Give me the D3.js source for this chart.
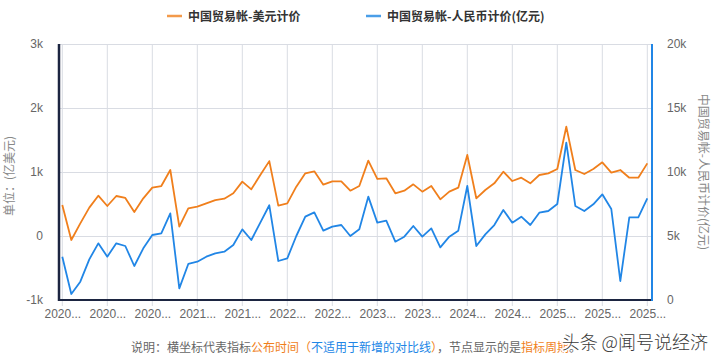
<!DOCTYPE html>
<html>
<head>
<meta charset="utf-8">
<script src="https://cdn.jsdelivr.net/npm/d3@7/dist/d3.min.js"></script>
<style>
  body { margin: 0; background: #fff; }
  svg { display: block; font-family: "Noto Sans CJK SC", "Noto Sans", sans-serif; }
</style>
</head>
<body>
<div id="chart"></div>
<script>
// 中国贸易帐 (亿美元)
const usdValues = [
  484, -62, 198, 443, 630, 469, 625, 594, 375, 589,
  755, 781, 1031, 146, 432, 458, 510, 562, 583, 667,
  849, 729, 953, 1170, 474, 510, 771, 979, 1010, 802,
  854, 854, 708, 781, 1177, 891, 901, 667, 708, 807,
  693, 781, 573, 693, 755, 1266, 589, 719, 823, 1005,
  859, 911, 823, 953, 979, 1047, 1708, 1031, 969, 1047,
  1151, 990, 1031, 911, 911, 1135
];

// 中国贸易帐 (亿元)
const cnyValues = [
  3385, 469, 1432, 3177, 4427, 3385, 4427, 4219, 2656, 4036,
  5078, 5208, 6771, 911, 2813, 2995, 3385, 3646, 3776, 4297,
  5521, 4688, 6042, 7400, 3047, 3255, 5000, 6510, 6849, 5417,
  5729, 5859, 5000, 5521, 8073, 6042, 6198, 4557, 4948, 5781,
  4948, 5599, 4115, 4948, 5417, 8906, 4219, 5130, 5859, 7031,
  6042, 6510, 5859, 6823, 6953, 7500, 12292, 7344, 6953, 7474,
  8255, 7109, 1484, 6458, 6458, 7943
];

const tickLabels = [
  "2020...", "2020...", "2020...", "2021...", "2021...", "2022...", "2022...",
  "2023...", "2023...", "2024...", "2024...", "2025...", "2025...", "2025..."
];

const leftTicks = [-1000, 0, 1000, 2000, 3000];
const rightTicks = [0, 5000, 10000, 15000, 20000];

const seriesNames = ["中国贸易帐-美元计价", "中国贸易帐-人民币计价(亿元)"];

const width = 720, height = 361;
const orange = "#f07f1c", blue = "#2186e6", navy = "#1c2541";
const plotLeft = 59, plotRight = 652, plotTop = 44, plotBottom = 300;

const svg = d3.select("#chart").append("svg")
    .attr("width", width)
    .attr("height", height);

const x = d3.scaleLinear()
    .domain([0, usdValues.length - 1])
    .range([62.3, 647.3]);

const yL = d3.scaleLinear().domain([-1000, 3000]).range([plotBottom, plotTop]);
const yR = d3.scaleLinear().domain([0, 20000]).range([plotBottom, plotTop]);

const kFormat = v => v === 0 ? "0" : (v / 1000) + "k";

// grid
const tickIdx = tickLabels.map((_, i) => i * 5);

svg.append("g")
    .attr("stroke", "#d9dce3")
    .attr("stroke-width", 1)
    .selectAll("line.h")
    .data(leftTicks)
    .join("line")
    .attr("x1", plotLeft)
    .attr("x2", plotRight)
    .attr("y1", d => Math.round(yL(d)) + 0.5)
    .attr("y2", d => Math.round(yL(d)) + 0.5);

svg.append("g")
    .attr("stroke", "#d9dce3")
    .attr("stroke-width", 1)
    .selectAll("line.v")
    .data(tickIdx)
    .join("line")
    .attr("x1", d => x(d))
    .attr("x2", d => x(d))
    .attr("y1", plotTop)
    .attr("y2", plotBottom + 6);

// left axis
const leftAxis = svg.append("g")
    .attr("transform", `translate(${plotLeft},0)`)
    .call(d3.axisLeft(yL).tickValues(leftTicks).tickFormat(kFormat).tickSize(0).tickPadding(16));
leftAxis.select(".domain").remove();
leftAxis.selectAll("text").attr("fill", "#666").style("font-size", "12px");

// right axis
const rightAxis = svg.append("g")
    .attr("transform", `translate(${plotRight},0)`)
    .call(d3.axisRight(yR).tickValues(rightTicks).tickFormat(kFormat).tickSize(0).tickPadding(15));
rightAxis.select(".domain").remove();
rightAxis.selectAll("text").attr("fill", "#666").style("font-size", "12px");

// bottom axis labels
const bottomAxis = svg.append("g")
    .attr("transform", `translate(0,${plotBottom})`)
    .call(d3.axisBottom(x).tickValues(tickIdx).tickFormat((d, i) => tickLabels[i]).tickSize(0).tickPadding(9));
bottomAxis.select(".domain").remove();
bottomAxis.selectAll("text").attr("fill", "#666").style("font-size", "12px");

// axis lines
svg.append("line")
    .attr("x1", plotLeft).attr("x2", plotLeft)
    .attr("y1", plotTop).attr("y2", plotBottom + 1)
    .attr("stroke", navy).attr("stroke-width", 2.5);
svg.append("line")
    .attr("x1", plotLeft - 1).attr("x2", plotRight)
    .attr("y1", plotBottom).attr("y2", plotBottom)
    .attr("stroke", navy).attr("stroke-width", 2);
svg.append("line")
    .attr("x1", plotRight).attr("x2", plotRight)
    .attr("y1", plotTop).attr("y2", plotBottom + 1)
    .attr("stroke", blue).attr("stroke-width", 2);

// axis titles
svg.append("text")
    .attr("transform", "translate(14,176) rotate(-90)")
    .attr("text-anchor", "middle")
    .attr("fill", "#888")
    .style("font-size", "12px")
    .text("单位：(亿美元)");

svg.append("text")
    .attr("transform", "translate(699,172) rotate(90)")
    .attr("text-anchor", "middle")
    .attr("fill", "#888")
    .style("font-size", "12px")
    .text(seriesNames[1]);

// lines
const lineL = d3.line().x((d, i) => x(i)).y(d => yL(d));
const lineR = d3.line().x((d, i) => x(i)).y(d => yR(d));

svg.append("path")
    .datum(cnyValues)
    .attr("fill", "none")
    .attr("stroke", blue)
    .attr("stroke-width", 1.8)
    .attr("stroke-linejoin", "round")
    .attr("d", lineR);

svg.append("path")
    .datum(usdValues)
    .attr("fill", "none")
    .attr("stroke", orange)
    .attr("stroke-width", 1.8)
    .attr("stroke-linejoin", "round")
    .attr("d", lineL);

// legend
const legend = svg.append("g");
[[167, "#f39a4a", seriesNames[0]], [366, "#4a9ee8", seriesNames[1]]].forEach(([lx, c, name]) => {
    legend.append("line")
        .attr("x1", lx).attr("x2", lx + 15)
        .attr("y1", 16).attr("y2", 16)
        .attr("stroke", c).attr("stroke-width", 2.5);
    legend.append("text")
        .attr("x", lx + 21).attr("y", 20.5)
        .attr("fill", "#333")
        .style("font-size", "12px")
        .style("font-weight", "bold")
        .text(name);
});

// footnote
const note = svg.append("text")
    .attr("x", 131).attr("y", 352)
    .style("font-size", "12px");
[
  ["说明：横坐标代表指标", "#666"],
  ["公布时间（", orange],
  ["不适用于新增的对比线", blue],
  ["）", orange],
  ["，节点显示的是", "#666"],
  ["指标周期", orange],
  ["。", "#666"]
].forEach(([t, c]) => note.append("tspan").attr("fill", c).text(t));

// watermark
svg.append("text")
    .attr("x", 708).attr("y", 349)
    .attr("text-anchor", "end")
    .attr("fill", "#3a3a3a")
    .attr("stroke", "#fff")
    .attr("stroke-width", 3)
    .attr("paint-order", "stroke")
    .style("font-size", "18px")
    .style("font-weight", "300")
    .text("头条 @闻号说经济");
</script>
</body>
</html>
